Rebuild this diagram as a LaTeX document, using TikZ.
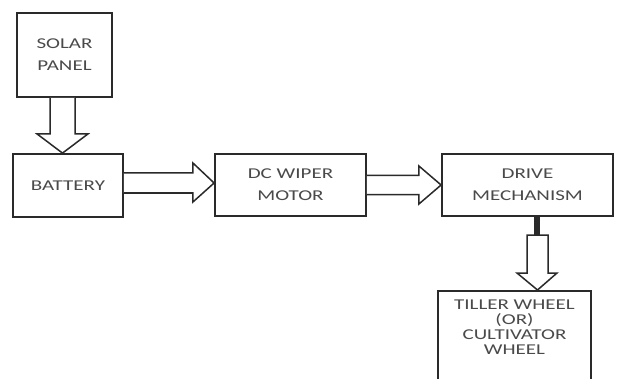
\documentclass[tikz,border=0pt]{standalone}
\usepackage{fontspec}
\newfontfamily\diagfont[FakeStretch=1.4]{Carlito}
\usetikzlibrary{calc}
\definecolor{txtgray}{HTML}{4A4A4A}
\definecolor{linegray}{HTML}{2A2A2A}
\tikzset{
  blockbox/.style={draw=linegray, line width=1.8pt, fill=white, inner sep=0pt, align=center,
    text=txtgray, font=\diagfont\fontsize{15}{22}\selectfont},
  blockarrow/.style={draw=linegray, line width=1.5pt, fill=white, line join=miter},
}
\begin{document}
\begin{tikzpicture}[x=1pt,y=-1pt]
\clip (0,0) rectangle (617,379);
\fill[white] (0,0) rectangle (617,379);

\node[blockbox, minimum width=95pt, minimum height=84pt] (solar) at (64.5,55) {SOLAR\\PANEL};
\node[blockbox, minimum width=110pt, minimum height=63pt] (battery) at (68,185.5) {BATTERY};
\node[blockbox, minimum width=151pt, minimum height=62pt] (dc) at (290.5,185) {DC WIPER\\MOTOR};
\node[blockbox, minimum width=171pt, minimum height=62pt] (drive) at (527.5,185) {DRIVE\\MECHANISM};
\node[blockbox, minimum width=153pt, minimum height=120pt, anchor=north] (tiller) at (514.5,290) {};
\node[text=txtgray, font=\diagfont\fontsize{15}{15}\selectfont, align=center, anchor=north, inner sep=0pt]
  (tillertext) at (514.5,300) {TILLER WHEEL\\(OR)\\CULTIVATOR\\WHEEL};

% solar -> battery
\coordinate (sa) at ($(solar.south)+(-2,0)$);
\draw[blockarrow] ($(sa)+(-12.5,0)$) -- ($(sa)+(-12.5,36)$) -- ($(sa)+(-25.5,36)$)
  -- (sa |- battery.north) -- ($(sa)+(25.5,36)$) -- ($(sa)+(12.5,36)$) -- ($(sa)+(12.5,0)$);

% battery -> dc
\coordinate (ba) at ($(battery.east)+(0,-2.5)$);
\draw[blockarrow] ($(ba)+(0,-10)$) -- ($(ba)+(69,-10)$) -- ($(ba)+(69,-20)$)
  -- (ba -| dc.west) -- ($(ba)+(69,19)$) -- ($(ba)+(69,10)$) -- ($(ba)+(0,10)$);

% dc -> drive
\coordinate (da) at ($(dc.east)+(0,0)$);
\draw[blockarrow] ($(da)+(0,-9.5)$) -- ($(da)+(52,-9.5)$) -- ($(da)+(52,-19)$)
  -- (da -| drive.west) -- ($(da)+(52,19)$) -- ($(da)+(52,9.5)$) -- ($(da)+(0,9.5)$);

% drive -> tiller
\coordinate (ta) at (537.5,216);
\fill[linegray] ($(ta)+(-3.5,0)$) rectangle ($(ta)+(2,19)$);
\draw[blockarrow] ($(ta)+(-10.5,19)$) -- ($(ta)+(-10.5,57)$) -- ($(ta)+(-20.5,57)$)
  -- (ta |- tiller.north) -- ($(ta)+(19.5,57)$) -- ($(ta)+(10.5,57)$) -- ($(ta)+(10.5,19)$) -- cycle;
\end{tikzpicture}
\end{document}
